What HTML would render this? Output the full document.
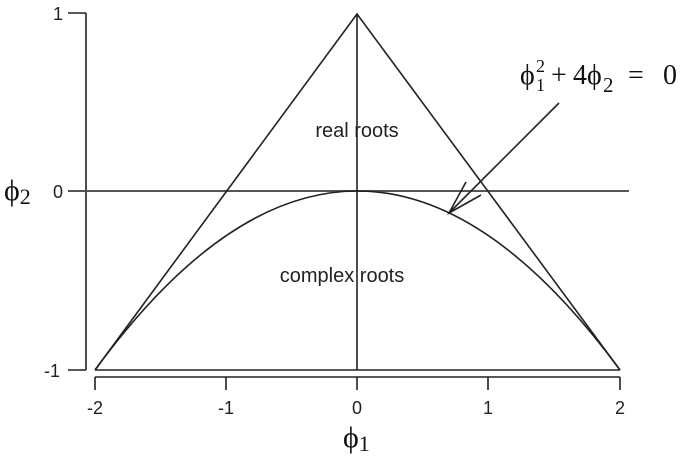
<!DOCTYPE html>
<html><head><style>body{margin:0;background:#fff}</style></head><body>
<svg width="685" height="456" xmlns="http://www.w3.org/2000/svg" style="display:block">
<g stroke="#222" stroke-width="1.6" fill="none">
<line x1="86" y1="13" x2="86" y2="370"/>
<line x1="68" y1="13" x2="86" y2="13"/>
<line x1="68" y1="370" x2="86" y2="370"/>
<line x1="68" y1="191" x2="629" y2="191" stroke="#555" stroke-width="2"/>
<line x1="95" y1="377" x2="620" y2="377"/>
<line x1="95" y1="377" x2="95" y2="390"/>
<line x1="226" y1="377" x2="226" y2="390"/>
<line x1="357" y1="377" x2="357" y2="390"/>
<line x1="488" y1="377" x2="488" y2="390"/>
<line x1="620" y1="377" x2="620" y2="390"/>
<line x1="95" y1="370" x2="620" y2="370"/>
<polyline points="95,370 357,14 620,370"/>
<line x1="357" y1="14" x2="357" y2="370"/>
<path d="M95,370 Q357,12 620,370"/>
<line x1="559" y1="103" x2="449" y2="213"/>
<polyline points="466,182 449,213 481,195"/>
</g>
<g font-family="Liberation Sans, sans-serif" font-size="18" fill="#222" text-anchor="middle">
<text x="58" y="20">1</text>
<text x="58" y="198">0</text>
<text x="52" y="377">-1</text>
<text x="95" y="414">-2</text>
<text x="226" y="414">-1</text>
<text x="357" y="414">0</text>
<text x="488" y="414">1</text>
<text x="620" y="414">2</text>
<text x="357" y="137" font-size="20">real roots</text>
<text x="342" y="282" font-size="20">complex roots</text>
</g>
<g font-family="Liberation Serif, serif" fill="#111">
<text x="4" y="200" font-size="30">ϕ<tspan font-size="22" dy="4">2</tspan></text>
<text x="343" y="447" font-size="30">ϕ<tspan font-size="22" dy="4">1</tspan></text>
<g font-size="28">
<text x="520" y="84">ϕ</text>
<text x="536" y="72" font-size="18">2</text>
<text x="536" y="91" font-size="18">1</text>
<text x="551" y="84">+</text>
<text x="573" y="84">4ϕ</text>
<text x="603" y="92" font-size="21">2</text>
<text x="628" y="84">=</text>
<text x="663" y="84">0</text>
</g>
</g>
</svg>
</body></html>
